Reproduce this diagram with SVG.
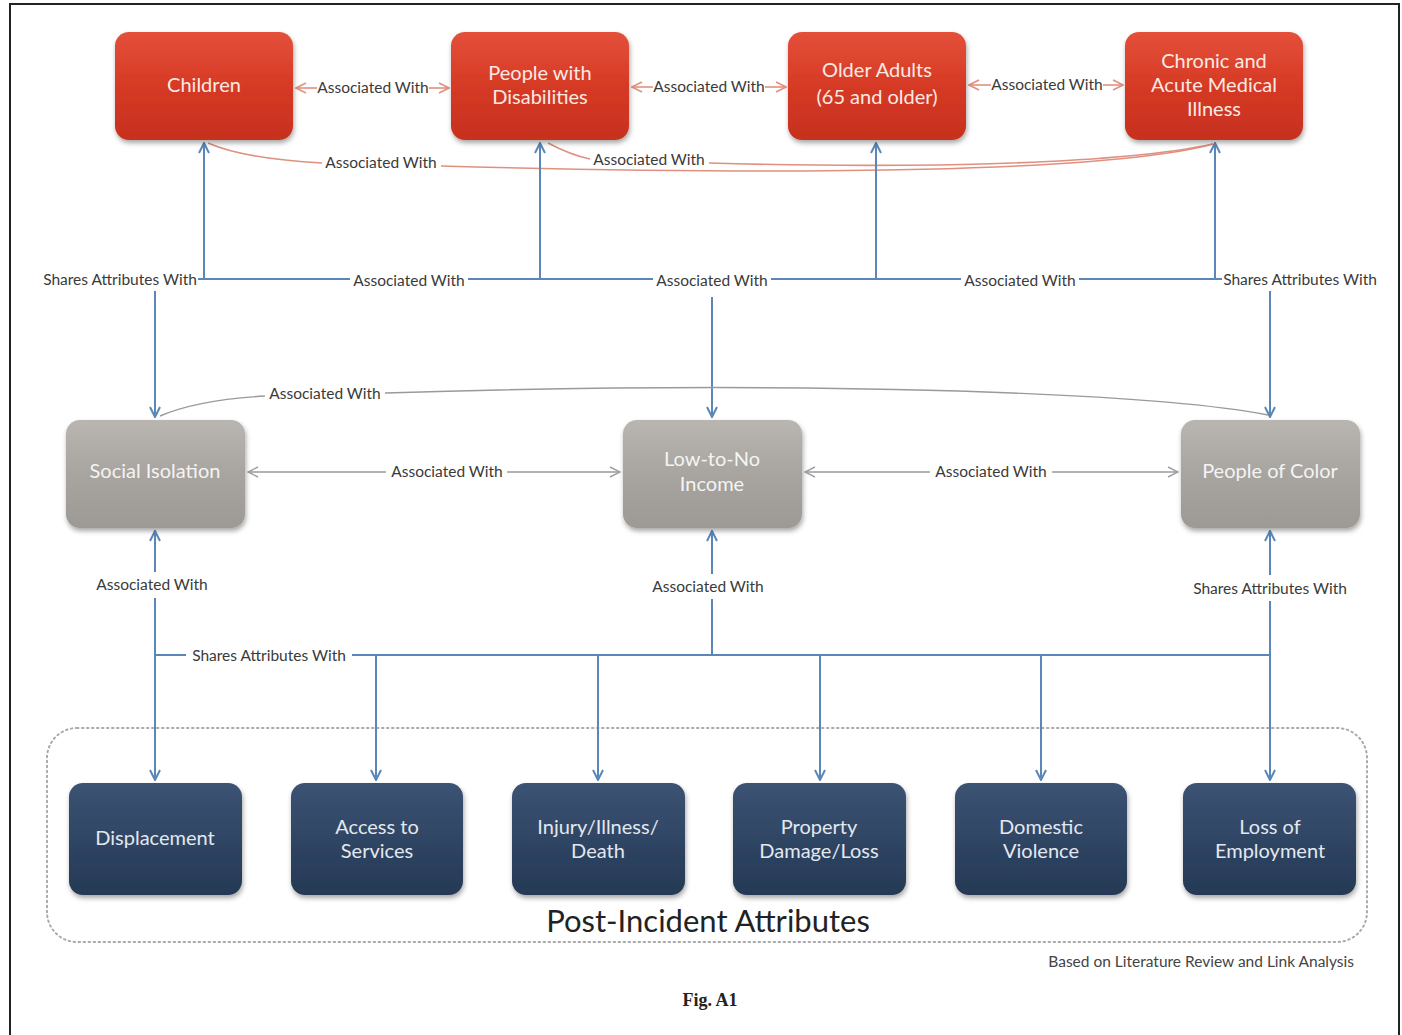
<svg xmlns="http://www.w3.org/2000/svg" width="1402" height="1035" viewBox="0 0 1402 1035">
<style>
.lbl{font-family:Lato,"Liberation Sans",sans-serif;font-size:15.5px;fill:#3a3a3a;text-anchor:middle}
.nt{font-family:Lato,"Open Sans","Liberation Sans",sans-serif;font-size:20px;text-anchor:middle}
.red .nt{fill:#fbe9e4}
.gray .nt{fill:#f4f4f4}
.dark .nt{fill:#e3e8ef}
.blue{stroke:#5a87b7;stroke-width:2;fill:none}
.redc{stroke:#e0907f;stroke-width:1.6;fill:none}
.grayc{stroke:#9a9a9a;stroke-width:1.4;fill:none}
</style>
<defs>
<linearGradient id="gRed" x1="0" y1="0" x2="0" y2="1">
<stop offset="0" stop-color="#e4503a"/><stop offset="0.5" stop-color="#d63a25"/><stop offset="1" stop-color="#c6301e"/>
</linearGradient>
<linearGradient id="gGray" x1="0" y1="0" x2="0" y2="1">
<stop offset="0" stop-color="#b9b6b1"/><stop offset="0.5" stop-color="#a8a49f"/><stop offset="1" stop-color="#9d9994"/>
</linearGradient>
<linearGradient id="gDark" x1="0" y1="0" x2="0" y2="1">
<stop offset="0" stop-color="#3c5373"/><stop offset="0.5" stop-color="#2f4564"/><stop offset="1" stop-color="#263955"/>
</linearGradient>
<filter id="sh" x="-10%" y="-10%" width="125%" height="130%">
<feDropShadow dx="1" dy="3" stdDeviation="2.5" flood-color="#000" flood-opacity="0.35"/>
</filter>
<marker id="aB" viewBox="0 0 12 12" refX="11" refY="6" markerWidth="12" markerHeight="12" markerUnits="userSpaceOnUse" orient="auto-start-reverse">
<path d="M1,1 L11,6 L1,11" fill="none" stroke="#5a87b7" stroke-width="2"/>
</marker>
<marker id="aR" viewBox="0 0 12 12" refX="11" refY="6" markerWidth="12" markerHeight="12" markerUnits="userSpaceOnUse" orient="auto-start-reverse">
<path d="M1,1 L11,6 L1,11" fill="none" stroke="#e0907f" stroke-width="1.6"/>
</marker>
<marker id="aG" viewBox="0 0 12 12" refX="11" refY="6" markerWidth="12" markerHeight="12" markerUnits="userSpaceOnUse" orient="auto-start-reverse">
<path d="M1,1 L11,6 L1,11" fill="none" stroke="#a0a0a0" stroke-width="1.4"/>
</marker>
</defs>
<rect x="0" y="0" width="1402" height="1035" fill="#fff"/>
<rect x="10" y="4" width="1389" height="1040" fill="none" stroke="#222" stroke-width="2"/>

<!-- container -->
<g id="post-incident-container">
<rect x="47" y="728" width="1320" height="214" rx="30" fill="none" stroke="#aaa" stroke-width="2" stroke-dasharray="1.5 3.5" stroke-linecap="round"/>
<text x="708" y="932" font-family="Lato,'Liberation Sans',sans-serif" font-size="31" fill="#222" text-anchor="middle">Post-Incident Attributes</text>
</g>

<g id="connectors">
<!-- top red row -->
<line class="redc" x1="296" y1="88" x2="317" y2="88" marker-start="url(#aR)"/>
<line class="redc" x1="429" y1="88" x2="449" y2="88" marker-end="url(#aR)"/>
<text class="lbl" x="373" y="93">Associated With</text>
<line class="redc" x1="632" y1="87" x2="653" y2="87" marker-start="url(#aR)"/>
<line class="redc" x1="765" y1="87" x2="786" y2="87" marker-end="url(#aR)"/>
<text class="lbl" x="709" y="92">Associated With</text>
<line class="redc" x1="969" y1="85" x2="991" y2="85" marker-start="url(#aR)"/>
<line class="redc" x1="1103" y1="85" x2="1123" y2="85" marker-end="url(#aR)"/>
<text class="lbl" x="1047" y="90">Associated With</text>
<!-- red curves -->
<path class="redc" d="M208,143 C240,157 285,161 322,163"/>
<text class="lbl" x="381" y="168">Associated With</text>
<path class="redc" d="M441,166 C800,176 1110,172 1213,144"/>
<path class="redc" d="M548,143 C565,152 575,156 590,159"/>
<text class="lbl" x="649" y="165">Associated With</text>
<path class="redc" d="M709,163 C920,169 1120,164 1213,144"/>

<!-- blue bus top -->
<line class="blue" x1="204" y1="279" x2="204" y2="143" marker-end="url(#aB)"/>
<line class="blue" x1="540" y1="279" x2="540" y2="143" marker-end="url(#aB)"/>
<line class="blue" x1="876" y1="279" x2="876" y2="143" marker-end="url(#aB)"/>
<line class="blue" x1="1215" y1="279" x2="1215" y2="143" marker-end="url(#aB)"/>
<line class="blue" x1="198" y1="279" x2="350" y2="279"/>
<line class="blue" x1="468" y1="279" x2="653" y2="279"/>
<line class="blue" x1="771" y1="279" x2="961" y2="279"/>
<line class="blue" x1="1079" y1="279" x2="1222" y2="279"/>
<text class="lbl" x="120" y="285">Shares Attributes With</text>
<text class="lbl" x="409" y="286">Associated With</text>
<text class="lbl" x="712" y="286">Associated With</text>
<text class="lbl" x="1020" y="286">Associated With</text>
<text class="lbl" x="1300" y="285">Shares Attributes With</text>
<line class="blue" x1="155" y1="291" x2="155" y2="417" marker-end="url(#aB)"/>
<line class="blue" x1="712" y1="297" x2="712" y2="417" marker-end="url(#aB)"/>
<line class="blue" x1="1270" y1="291" x2="1270" y2="417" marker-end="url(#aB)"/>

<!-- gray curve -->
<path class="grayc" d="M160,416 C190,403 230,398 265,396"/>
<text class="lbl" x="325" y="399">Associated With</text>
<path class="grayc" d="M385,393 C800,380 1150,392 1268,415"/>

<!-- gray horizontal -->
<line class="grayc" x1="248" y1="472" x2="386" y2="472" marker-start="url(#aG)"/>
<line class="grayc" x1="507" y1="472" x2="620" y2="472" marker-end="url(#aG)"/>
<text class="lbl" x="447" y="477">Associated With</text>
<line class="grayc" x1="805" y1="472" x2="930" y2="472" marker-start="url(#aG)"/>
<line class="grayc" x1="1052" y1="472" x2="1178" y2="472" marker-end="url(#aG)"/>
<text class="lbl" x="991" y="477">Associated With</text>

<!-- lower bus -->
<line class="blue" x1="155" y1="572" x2="155" y2="531" marker-end="url(#aB)"/>
<line class="blue" x1="155" y1="598" x2="155" y2="780" marker-end="url(#aB)"/>
<text class="lbl" x="152" y="590">Associated With</text>
<line class="blue" x1="712" y1="574" x2="712" y2="531" marker-end="url(#aB)"/>
<line class="blue" x1="712" y1="599" x2="712" y2="655"/>
<text class="lbl" x="708" y="592">Associated With</text>
<line class="blue" x1="1270" y1="575" x2="1270" y2="531" marker-end="url(#aB)"/>
<line class="blue" x1="1270" y1="601" x2="1270" y2="780" marker-end="url(#aB)"/>
<text class="lbl" x="1270" y="594">Shares Attributes With</text>
<line class="blue" x1="155" y1="655" x2="186" y2="655"/>
<line class="blue" x1="352" y1="655" x2="1270" y2="655"/>
<text class="lbl" x="269" y="661">Shares Attributes With</text>
<line class="blue" x1="376" y1="655" x2="376" y2="780" marker-end="url(#aB)"/>
<line class="blue" x1="598" y1="655" x2="598" y2="780" marker-end="url(#aB)"/>
<line class="blue" x1="820" y1="655" x2="820" y2="780" marker-end="url(#aB)"/>
<line class="blue" x1="1041" y1="655" x2="1041" y2="780" marker-end="url(#aB)"/>
</g>

<!-- red nodes -->
<g id="children" class="red">
<rect x="115" y="32" width="178" height="108" rx="14" fill="url(#gRed)" filter="url(#sh)"/>
<text class="nt" x="204" y="92">Children</text>
</g>
<g id="people-with-disabilities" class="red">
<rect x="451" y="32" width="178" height="108" rx="14" fill="url(#gRed)" filter="url(#sh)"/>
<text class="nt" x="540" y="80">People with</text>
<text class="nt" x="540" y="104">Disabilities</text>
</g>
<g id="older-adults" class="red">
<rect x="788" y="32" width="178" height="108" rx="14" fill="url(#gRed)" filter="url(#sh)"/>
<text class="nt" x="877" y="77">Older Adults</text>
<text class="nt" x="877" y="104">(65 and older)</text>
</g>
<g id="chronic-illness" class="red">
<rect x="1125" y="32" width="178" height="108" rx="14" fill="url(#gRed)" filter="url(#sh)"/>
<text class="nt" x="1214" y="68">Chronic and</text>
<text class="nt" x="1214" y="92">Acute Medical</text>
<text class="nt" x="1214" y="116">Illness</text>
</g>

<!-- gray nodes -->
<g id="social-isolation" class="gray">
<rect x="66" y="420" width="179" height="108" rx="14" fill="url(#gGray)" filter="url(#sh)"/>
<text class="nt" x="155" y="478">Social Isolation</text>
</g>
<g id="low-income" class="gray">
<rect x="623" y="420" width="179" height="108" rx="14" fill="url(#gGray)" filter="url(#sh)"/>
<text class="nt" x="712" y="466">Low-to-No</text>
<text class="nt" x="712" y="491">Income</text>
</g>
<g id="people-of-color" class="gray">
<rect x="1181" y="420" width="179" height="108" rx="14" fill="url(#gGray)" filter="url(#sh)"/>
<text class="nt" x="1270" y="478">People of Color</text>
</g>

<!-- dark nodes -->
<g id="displacement" class="dark">
<rect x="69" y="783" width="173" height="112" rx="14" fill="url(#gDark)" filter="url(#sh)"/>
<text class="nt" x="155" y="845">Displacement</text>
</g>
<g id="access-to-services" class="dark">
<rect x="291" y="783" width="172" height="112" rx="14" fill="url(#gDark)" filter="url(#sh)"/>
<text class="nt" x="377" y="834">Access to</text>
<text class="nt" x="377" y="858">Services</text>
</g>
<g id="injury-illness-death" class="dark">
<rect x="512" y="783" width="173" height="112" rx="14" fill="url(#gDark)" filter="url(#sh)"/>
<text class="nt" x="598" y="834">Injury/Illness/</text>
<text class="nt" x="598" y="858">Death</text>
</g>
<g id="property-damage" class="dark">
<rect x="733" y="783" width="173" height="112" rx="14" fill="url(#gDark)" filter="url(#sh)"/>
<text class="nt" x="819" y="834">Property</text>
<text class="nt" x="819" y="858">Damage/Loss</text>
</g>
<g id="domestic-violence" class="dark">
<rect x="955" y="783" width="172" height="112" rx="14" fill="url(#gDark)" filter="url(#sh)"/>
<text class="nt" x="1041" y="834">Domestic</text>
<text class="nt" x="1041" y="858">Violence</text>
</g>
<g id="loss-of-employment" class="dark">
<rect x="1183" y="783" width="173" height="112" rx="14" fill="url(#gDark)" filter="url(#sh)"/>
<text class="nt" x="1270" y="834">Loss of</text>
<text class="nt" x="1270" y="858">Employment</text>
</g>

<text x="1354" y="967" font-family="Lato,'Liberation Sans',sans-serif" font-size="15.5" fill="#444" text-anchor="end">Based on Literature Review and Link Analysis</text>
<text x="710" y="1006" font-family="'Liberation Serif',serif" font-size="18" font-weight="bold" fill="#222" text-anchor="middle">Fig. A1</text>
</svg>
